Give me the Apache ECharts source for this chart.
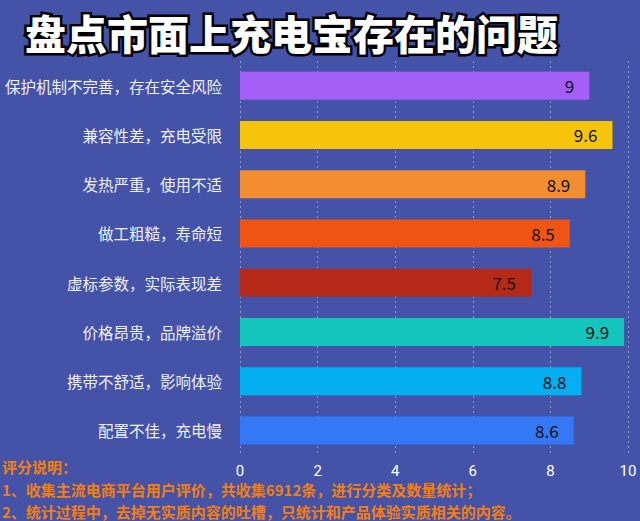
<!DOCTYPE html>
<html>
<head>
<meta charset="utf-8">
<script src="https://cdn.jsdelivr.net/npm/echarts@6/dist/echarts.min.js"></script>
<style>
  html, body { margin: 0; padding: 0; background: #4453a7; }
  #chart { width: 640px; height: 521px; }
</style>
</head>
<body>
<div id="chart"></div>
<script>
var categories = ['保护机制不完善，存在安全风险', '兼容性差，充电受限', '发热严重，使用不适', '做工粗糙，寿命短',
  '虚标参数，实际表现差', '价格昂贵，品牌溢价', '携带不舒适，影响体验', '配置不佳，充电慢'];
var scores = [9, 9.6, 8.9, 8.5, 7.5, 9.9, 8.8, 8.6];
var barColors = ['#a55ff6', '#f5c40b', '#f38d32', '#ef5413', '#b42a17', '#13c5bc', '#03aef1', '#3478f6'];
var xTicks = { min: 0, max: 10, interval: 2 };
var notes = ['评分说明：', '1、收集主流电商平台用户评价，共收集6912条，进行分类及数量统计；', '2、统计过程中，去掉无实质内容的吐槽，只统计和产品体验实质相关的内容。'];
var noteTops = [458, 481, 503];

var font = '"Noto Sans CJK SC", "Noto Sans", sans-serif';
var chart = echarts.init(document.getElementById('chart'), null, { renderer: 'svg' });

chart.setOption({
  animation: false,
  backgroundColor: '#4453a7',
  textStyle: { fontFamily: font },
  title: {
    text: '盘点市面上充电宝存在的问题',
    left: 20, top: 5,
    textStyle: {
      color: '#ffffff', fontSize: 41, fontWeight: 900, fontFamily: font, lineHeight: 44,
      textBorderColor: '#000000', textBorderWidth: 5
    }
  },
  grid: { left: 240, right: 12, top: 61, bottom: 66 },
  xAxis: {
    type: 'value',
    min: xTicks.min, max: xTicks.max, interval: xTicks.interval,
    axisLine: { show: false },
    axisTick: { show: false },
    axisLabel: { color: '#ffffff', fontSize: 15, margin: 10, lineHeight: 12, fontFamily: 'Roboto, "Noto Sans", sans-serif' },
    splitLine: { lineStyle: { color: 'rgba(255,255,255,0.4)', type: [2, 3], width: 1 } }
  },
  yAxis: {
    type: 'category',
    inverse: true,
    data: categories,
    axisLine: { show: false },
    axisTick: { show: false },
    axisLabel: { color: '#eef0f8', fontSize: 15.5, margin: 18 }
  },
  series: [{
    type: 'bar',
    barWidth: 28,
    data: scores.map(function(v, i) {
      return { value: v, itemStyle: { color: barColors[i] } };
    }),
    label: {
      show: true,
      position: 'insideRight',
      distance: 15,
      color: '#111111',
      fontSize: 17
    }
  }],
  graphic: notes.map(function(t, i) {
    return {
      type: 'text',
      left: 2,
      top: noteTops[i],
      style: { text: t, fill: '#f47f10', font: 'bold 15px ' + font, lineHeight: 16 }
    };
  })
});
</script>
</body>
</html>
